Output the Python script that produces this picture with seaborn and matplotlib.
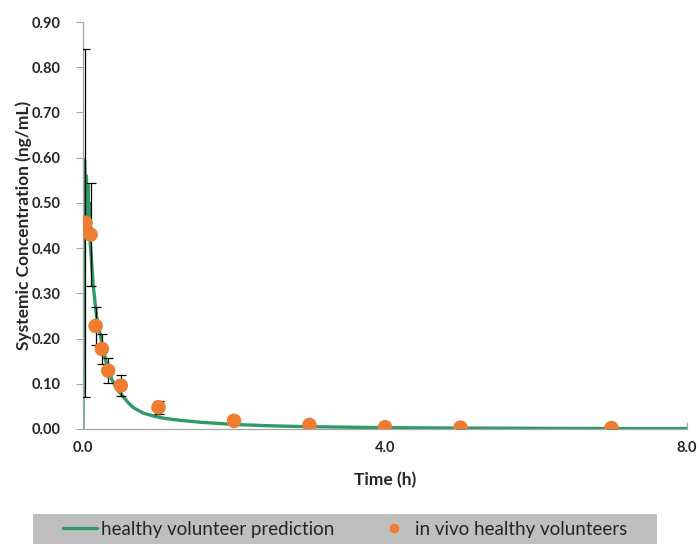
import matplotlib
matplotlib.use("Agg")
import matplotlib.pyplot as plt
import seaborn as sns
import pandas as pd
from matplotlib.patches import Rectangle
from matplotlib.lines import Line2D

# ---- data ----
pred_time = [0.0, 0.005, 0.02, 0.035, 0.045, 0.055, 0.065, 0.075, 0.085, 0.093,
             0.137, 0.18, 0.25, 0.31, 0.38, 0.45, 0.51, 0.6, 0.67, 0.8, 0.95,
             1.1, 1.3, 1.55, 2.0, 2.5, 2.88, 3.5, 4.0, 5.0, 6.0, 7.0, 8.0]
pred_conc = [0.0, 0.30, 0.595, 0.50, 0.56, 0.47, 0.54, 0.44, 0.50, 0.418,
             0.315, 0.248, 0.19, 0.145, 0.11, 0.088, 0.076, 0.058, 0.047, 0.035, 0.028,
             0.023, 0.019, 0.015, 0.010, 0.007, 0.0055, 0.004, 0.003, 0.002, 0.0015, 0.001, 0.001]

obs_time = [0.033, 0.1, 0.167, 0.25, 0.333, 0.5, 1.0, 2.0, 3.0, 4.0, 5.0, 7.0]
obs_conc = [0.456, 0.430, 0.228, 0.177, 0.129, 0.096, 0.048, 0.018, 0.009, 0.004, 0.003, 0.002]
obs_sd = [0.385, 0.113, 0.042, 0.034, 0.027, 0.024, 0.015, 0.0, 0.0, 0.0, 0.0, 0.0]

y_ticks = [0.0, 0.1, 0.2, 0.3, 0.4, 0.5, 0.6, 0.7, 0.8, 0.9]
x_ticks = [0.0, 4.0, 8.0]

pred_label = "healthy volunteer prediction"
obs_label = "in vivo healthy volunteers"
x_title = "Time (h)"
y_title = "Systemic Concentration (ng/mL)"

GREEN = "#2e9a6a"
ORANGE = "#ee7d31"
AXIS_GREY = "#a6a6a6"

sns.set_style("white")
plt.rcParams["font.family"] = ["Lato", "DejaVu Sans"]

fig = plt.figure(figsize=(6.97, 5.44), dpi=100)
ax = fig.add_axes([83/697, 1-429/544, (687-83)/697, (429-22)/544])

pred_df = pd.DataFrame({"t": pred_time, "c": pred_conc})
obs_df = pd.DataFrame({"t": obs_time, "c": obs_conc, "sd": obs_sd})

sns.lineplot(data=pred_df, x="t", y="c", ax=ax, color=GREEN, linewidth=2.4,
             estimator=None, sort=False, zorder=2, legend=False)
ax.errorbar(obs_df["t"], obs_df["c"], yerr=obs_df["sd"], fmt="none",
            ecolor="black", elinewidth=0.9, capsize=3.5, capthick=0.9, zorder=3)
sns.scatterplot(data=obs_df, x="t", y="c", ax=ax, color=ORANGE, s=110,
                edgecolor="none", zorder=4, legend=False)

ax.set_xlim(0, 8)
ax.set_ylim(0, 0.9)
ax.set_xticks(x_ticks)
ax.set_xticklabels([f"{v:.1f}" for v in x_ticks])
ax.set_yticks(y_ticks)
ax.set_yticklabels([f"{v:.2f}" for v in y_ticks])
for lbl in ax.get_xticklabels() + ax.get_yticklabels():
    lbl.set_fontweight("bold")
    lbl.set_fontsize(10.5)
ax.tick_params(axis="y", direction="out", length=5, width=0.8, color=AXIS_GREY, pad=11, left=True)
ax.tick_params(axis="x", direction="in", length=5, width=0.8, color=AXIS_GREY, pad=9, bottom=True)

for side in ["top", "right"]:
    ax.spines[side].set_visible(False)
for side in ["left", "bottom"]:
    ax.spines[side].set_color(AXIS_GREY)
    ax.spines[side].set_linewidth(0.9)

ax.set_xlabel(x_title, fontsize=12.5, fontweight="bold", labelpad=12)
ax.set_ylabel(y_title, fontsize=12.5, fontweight="bold", labelpad=0)

# legend band
fig.patches.append(Rectangle((33/697, 0), 624/697, 30/544, transform=fig.transFigure,
                             facecolor="#bfbfbf", edgecolor="none", zorder=0))
handles = [Line2D([], [], color=GREEN, linewidth=2.4),
           Line2D([], [], color=ORANGE, marker="o", linestyle="none", markersize=6)]
fig.legend(handles, [pred_label, obs_label], loc="center",
           bbox_to_anchor=(345/697, 15/544), ncol=2, frameon=False,
           fontsize=13.5, handlelength=1.8, handletextpad=0.2, columnspacing=2.3)

fig.savefig("out.png", dpi=100)
